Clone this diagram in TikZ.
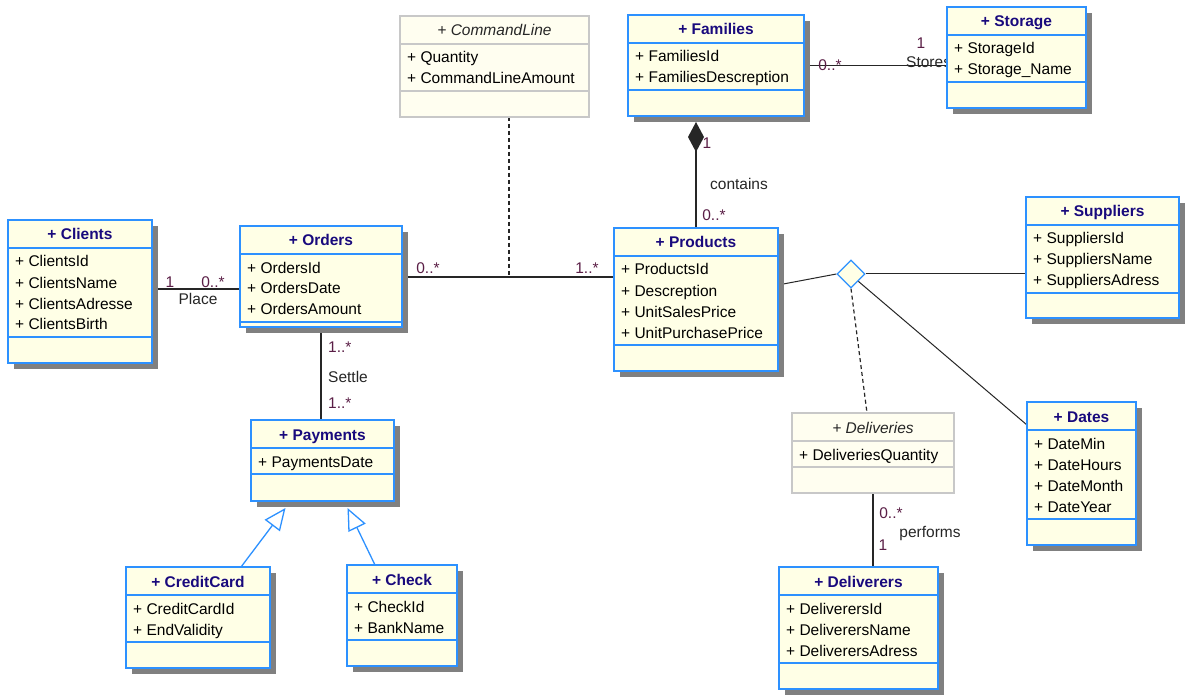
\documentclass[tikz,border=0pt]{standalone}
\usepackage{fontspec}
\setmainfont{Liberation Sans}
\usetikzlibrary{shapes.geometric,arrows.meta,shadows,calc,backgrounds}

\definecolor{classfill}{RGB}{255,255,230}
\definecolor{classborder}{RGB}{45,145,255}
\definecolor{classtitle}{RGB}{25,10,125}
\definecolor{absfill}{RGB}{255,254,240}
\definecolor{absborder}{RGB}{200,200,200}
\definecolor{shadowgray}{RGB}{128,128,128}
\definecolor{multcol}{RGB}{90,30,70}

\newcommand{\umlfont}{\fontsize{15.5}{19}\selectfont}

\tikzset{
  concrete box/.style={draw=classborder, line width=2pt, fill=classfill, inner sep=0, outer sep=0, anchor=north west,
    drop shadow={shadow xshift=6pt, shadow yshift=-6pt, fill=shadowgray, opacity=1}},
  abstract box/.style={draw=absborder, line width=1.5pt, fill=absfill, inner sep=0, outer sep=0, anchor=north west},
  concrete title/.style={font=\umlfont\bfseries, text=classtitle, anchor=base, inner sep=0},
  abstract title/.style={font=\umlfont\itshape, text=black!85, anchor=base, inner sep=0},
  concrete line/.style={draw=classborder, line width=2pt},
  abstract line/.style={draw=absborder, line width=1.5pt},
  attr/.style={anchor=base west, inner sep=0},
  mult/.style={text=multcol, inner sep=0},
  assocname/.style={text=black!85, inner sep=0},
  assoc/.style={draw=black!85, line width=1.6pt},
  thinassoc/.style={draw=black!85, line width=1pt},
  assocdash/.style={draw=black!85, line width=1.2pt, dash pattern=on 4pt off 3pt},
  composition/.style={assoc, -{Diamond[length=30pt, width=16pt]}, shorten >=6pt},
  inherit/.style={draw=classborder, line width=1.3pt, -{Triangle[open, length=22pt, width=19pt]}},
  narybox/.style={diamond, aspect=1, draw=classborder, line width=1.3pt, fill=classfill,
    minimum width=28pt, minimum height=28pt, inner sep=0}
}

% class box: [style]{name}{position}{width}{title}{attributes}{count}{last compartment}
\newcommand{\umlclass}[8][concrete]{%
  \pgfmathsetmacro{\sepy}{33+21*#7}%
  \pgfmathsetmacro{\boxh}{\sepy+#8}%
  \node[#1 box, minimum width=#4pt, minimum height=\boxh pt] (#2) at #3 {};
  \node[#1 title] (#2-title) at ($(#2.north)+(0,20)$) {+ #5};
  \draw[#1 line] ($(#2.north west)+(0,28)$) -- ($(#2.north east)+(0,28)$);
  \draw[#1 line] ($(#2.north west)+(0,\sepy)$) -- ($(#2.north east)+(0,\sepy)$);
  \foreach \a [count=\i] in {#6}
    \node[attr] (#2-\i) at ($(#2.north west)+(7,26+21*\i)$) {+ \a};
}

\begin{document}
\begin{tikzpicture}[x=1pt, y=-1pt, font=\umlfont]
\useasboundingbox (0,0) rectangle (1192,695);

\umlclass{clients}{(8,220)}{144}{Clients}{ClientsId,ClientsName,ClientsAdresse,ClientsBirth}{4}{26}
\umlclass{orders}{(240,226)}{162}{Orders}{OrdersId,OrdersDate,OrdersAmount}{3}{5}
\umlclass{products}{(614,228)}{164}{Products}{ProductsId,Descreption,UnitSalesPrice,UnitPurchasePrice}{4}{26}
\umlclass{families}{(628,15)}{176}{Families}{FamiliesId,FamiliesDescreption}{2}{26}
\umlclass{storage}{(947,7)}{139}{Storage}{StorageId,Storage\_Name}{2}{26}
\umlclass{suppliers}{(1026,197)}{153}{Suppliers}{SuppliersId,SuppliersName,SuppliersAdress}{3}{25}
\umlclass{dates}{(1027,402)}{109}{Dates}{DateMin,DateHours,DateMonth,DateYear}{4}{26}
\umlclass{payments}{(251,420)}{143}{Payments}{PaymentsDate}{1}{27}
\umlclass{creditcard}{(126,567)}{144}{CreditCard}{CreditCardId,EndValidity}{2}{26}
\umlclass{check}{(347,565)}{110}{Check}{CheckId,BankName}{2}{26}
\umlclass{deliverers}{(779,567)}{159}{Deliverers}{DeliverersId,DeliverersName,DeliverersAdress}{3}{26}
\umlclass[abstract]{commandline}{(400,16)}{189}{CommandLine}{Quantity,CommandLineAmount}{2}{26}
\umlclass[abstract]{deliveries}{(792,413)}{162}{Deliveries}{DeliveriesQuantity}{1}{26}

\node[narybox] (nary) at (851,274) {};
\coordinate (cmdmid) at (509,277);

\begin{scope}[on background layer]
  \fill[white] (0,0) rectangle (1192,695);
  \draw[assoc] (clients.east |- 0,289) -- (orders.west |- 0,289);
  \draw[assoc] (orders.east |- cmdmid) -- (products.west |- cmdmid);
  \draw[assocdash] (commandline.south -| cmdmid) -- (cmdmid);
  \draw[assoc] (families.east) -- (storage.west |- families.east);
  \draw[composition] (products.north) -- (products.north |- families.south);
  \draw[thinassoc] (products.east |- 0,285) -- (nary.west);
  \draw[thinassoc] (nary.east) -- (suppliers.west |- nary.east);
  \draw[thinassoc] (nary.south east) -- ($(dates.north west)+(0,23)$);
  \draw[assocdash] (nary.south) -- ($(deliveries.north)+(-6,0)$);
  \draw[assoc] (deliveries.south) -- (deliveries.south |- deliverers.north);
  \draw[assoc] (orders.south) -- (orders.south |- payments.north);
  \draw[inherit] ($(creditcard.north)+(43,0)$) -- ($(payments.south)+(-37,7)$);
  \draw[inherit] ($(check.north)+(-27,0)$) -- ($(payments.south)+(25,7)$);

  \node[mult] (place-1) at (170,282) {1};
  \node[mult] (place-2) at (213,282) {0..*};
  \node[assocname] (place) at (198,299) {Place};
  \node[mult] (line-1) at (428,268) {0..*};
  \node[mult] (line-2) at (587,268) {1..*};
  \node[mult] (stores-1) at (830,65) {0..*};
  \node[mult] (stores-2) at (921,43) {1};
  \node[assocname, anchor=west] (stores) at (906,62) {Stores};
  \node[mult] (contains-1) at (707,143) {1};
  \node[assocname] (contains) at (739,184) {contains};
  \node[mult] (contains-2) at (714,215) {0..*};
  \node[mult, anchor=west] (settle-1) at (328,347) {1..*};
  \node[assocname, anchor=west] (settle) at (328,377) {Settle};
  \node[mult, anchor=west] (settle-2) at (328,403) {1..*};
  \node[mult] (performs-1) at (891,513) {0..*};
  \node[assocname] (performs) at (930,533) {performs};
  \node[mult] (performs-2) at (883,545) {1};
\end{scope}

\end{tikzpicture}
\end{document}
